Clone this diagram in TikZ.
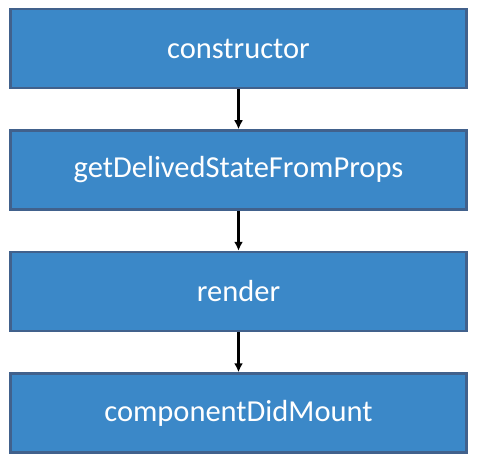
\documentclass[tikz,border=0pt]{standalone}
\usepackage{fontspec}
\setmainfont{Carlito}
\usepackage{xcolor}
\usepackage{tikz}
\usetikzlibrary{positioning}
\usetikzlibrary{arrows.meta}
\definecolor{boxfill}{RGB}{59,136,200}
\definecolor{boxline}{RGB}{65,97,140}
\tikzset{edge/.style = {-{Latex[length=9pt,width=9pt]}, line width=2.4pt}}

\begin{document}
\begin{tikzpicture}[x=1pt,y=-1pt,node distance=40pt,step node/.style={rectangle,draw=boxline,fill=boxfill,line width=2.5pt,minimum width=456pt,minimum height=79pt,text=white,font=\fontsize{30.5}{35}\selectfont}]
                \useasboundingbox (0,0) rectangle (478,462);
                \node[step node] (ctor) at (238.5,48.5) {constructor};
                \node[step node] (derived) [below=of ctor] {getDelivedStateFromProps};
                \node[step node] (render) [below=of derived] {render};
                \node[step node] (mount) [below=of render] {componentDidMount};

                \path[edge] (ctor) edge (derived);
                \path[edge] (derived) edge (render);
                \path[edge] (render) edge (mount);
            \end{tikzpicture}
\end{document}
